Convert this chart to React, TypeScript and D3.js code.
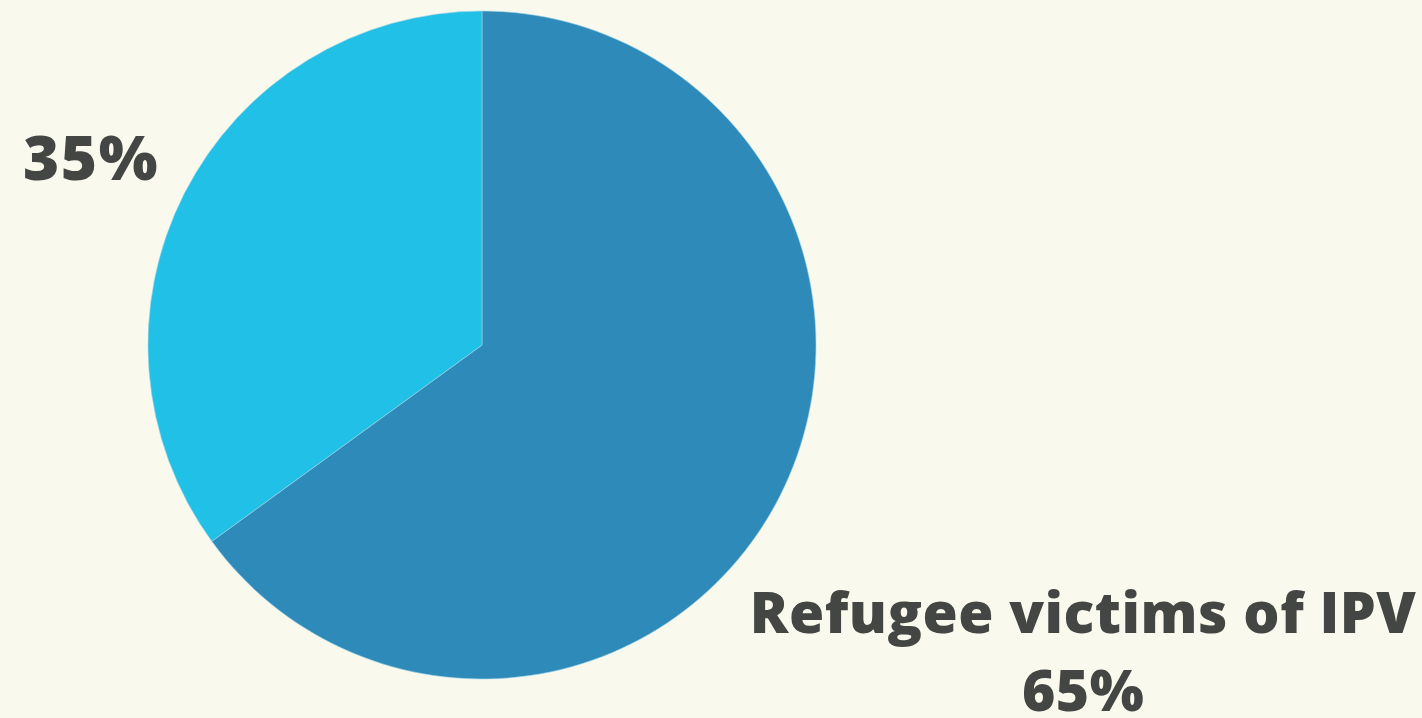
import React from "react";
import * as d3 from "d3";

const categories = ["Refugee victims of IPV", ""];
const values = [65, 35];
const colors = ["#2E8BB9", "#21C0E6"];
const labelRadiusFactors = [2.02, 1.314];
const labelSizes = [57, 62];

const W = 1422;
const H = 718;
const cx = 482;
const cy = 345;
const R = 334;

export default function App() {
  const pie = d3.pie<number>().sort(null).value((d) => d);
  const arcs = pie(values);
  const arc = d3.arc<d3.PieArcDatum<number>>().innerRadius(0).outerRadius(R);
  const total = d3.sum(values);
  return (
    <div style={{ position: "fixed", left: 0, top: 0, width: W, height: H, background: "#F9F9EE" }}>
      <svg width={W} height={H} style={{ display: "block" }}>
        <rect width={W} height={H} fill="#F9F9EE" />
        <g transform={`translate(${cx},${cy})`}>
          {arcs.map((a, i) => (
            <path key={i} d={arc(a) || ""} fill={colors[i]} stroke="#9fd3e6" strokeWidth={0.6} />
          ))}
          {arcs.map((a, i) => {
            const mid = (a.startAngle + a.endAngle) / 2;
            const d = R * labelRadiusFactors[i];
            const x = Math.sin(mid) * d;
            const y = -Math.cos(mid) * d;
            const pct = Math.round((values[i] / total) * 100) + "%";
            const style = {
              fontFamily: "'Open Sans', Lato, sans-serif",
              fontWeight: 800,
              fontSize: labelSizes[i],
              fill: "#444643",
              letterSpacing: 0.5,
            } as React.CSSProperties;
            if (categories[i]) {
              return (
                <text key={"l" + i} x={x} y={y} textAnchor="middle" style={style}>
                  <tspan x={x} dy={-18}>{categories[i]}</tspan>
                  <tspan x={x} dy={78}>{pct}</tspan>
                </text>
              );
            }
            return (
              <text key={"l" + i} x={x} y={y} textAnchor="middle" dy={34} style={{ ...style, letterSpacing: 1.5 }}>
                {pct}
              </text>
            );
          })}
        </g>
      </svg>
    </div>
  );
}
